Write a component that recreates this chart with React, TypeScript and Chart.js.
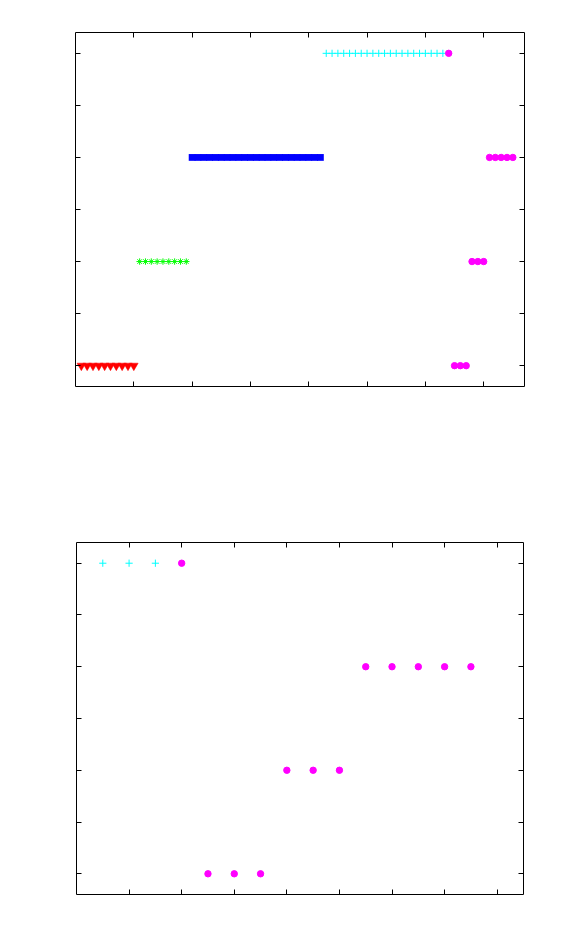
import React, { useEffect, useRef } from "react";
import { Chart, registerables } from "chart.js";

Chart.register(...registerables);

// ---------- data ----------
const yTicks = [0, 1, 2, 3, 4, 5, 6];
const yRange = [-0.4, 6.4];

// top panel
const topXRange = [0, 7.7];
const topXTicks = [1, 2, 3, 4, 5, 6, 7];
const topRedX = [0.1, 0.2, 0.3, 0.4, 0.5, 0.6, 0.7, 0.8, 0.9, 1.0];
const topRedY = 0;
const topGreenX = [1.1, 1.2, 1.3, 1.4, 1.5, 1.6, 1.7, 1.8, 1.9];
const topGreenY = 2;
const topBlueX = [2.0, 2.1, 2.2, 2.3, 2.4, 2.5, 2.6, 2.7, 2.8, 2.9, 3.0, 3.1, 3.2, 3.3, 3.4, 3.5, 3.6, 3.7, 3.8, 3.9, 4.0, 4.1, 4.2];
const topBlueY = 4;
const topCyanX = [4.3, 4.4, 4.5, 4.6, 4.7, 4.8, 4.9, 5.0, 5.1, 5.2, 5.3, 5.4, 5.5, 5.6, 5.7, 5.8, 5.9, 6.0, 6.1, 6.2, 6.3];
const topCyanY = 6;
const topMagentaX = [6.4, 6.5, 6.6, 6.7, 6.8, 6.9, 7.0, 7.1, 7.2, 7.3, 7.4, 7.5];
const topMagentaY = [6, 0, 0, 0, 2, 2, 2, 4, 4, 4, 4, 4];

// bottom panel
const bottomXRange = [0, 8.5];
const bottomXTicks = [1, 2, 3, 4, 5, 6, 7, 8];
const bottomCyanX = [0.5, 1.0, 1.5];
const bottomCyanY = 6;
const bottomMagentaX = [2.0, 2.5, 3.0, 3.5, 4.0, 4.5, 5.0, 5.5, 6.0, 6.5, 7.0, 7.5];
const bottomMagentaY = [6, 0, 0, 0, 2, 2, 2, 4, 4, 4, 4, 4];

const RED = "#ff0000";
const GREEN = "#00ff00";
const BLUE = "#0000ff";
const CYAN = "#00ffff";
const MAGENTA = "#ff00ff";

const framePlugin = (xTicks: number[], yT: number[]) => ({
  id: "frameTicks",
  afterDraw(chart: any) {
    const { ctx, chartArea } = chart;
    const { left, right, top, bottom } = chartArea;
    const xs = chart.scales.x;
    const ys = chart.scales.y;
    const len = 5;
    ctx.save();
    ctx.strokeStyle = "#000";
    ctx.lineWidth = 1;
    ctx.beginPath();
    ctx.rect(left, top, right - left, bottom - top);
    for (const v of xTicks) {
      const p = Math.round(xs.getPixelForValue(v) - 0.5) + 0.5;
      ctx.moveTo(p, bottom);
      ctx.lineTo(p, bottom - len);
      ctx.moveTo(p, top);
      ctx.lineTo(p, top + len);
    }
    for (const v of yT) {
      const p = Math.round(ys.getPixelForValue(v) - 0.5) + 0.5;
      ctx.moveTo(left, p);
      ctx.lineTo(left + len, p);
      ctx.moveTo(right, p);
      ctx.lineTo(right - len, p);
    }
    ctx.stroke();
    ctx.restore();
  },
});

const pts = (xs: number[], y: number | number[]) =>
  xs.map((x, i) => ({ x, y: Array.isArray(y) ? y[i] : y }));

function makeConfig(
  datasets: any[],
  xRange: number[],
  xTicks: number[],
  padding: any
): any {
  return {
    type: "scatter",
    data: { datasets },
    options: {
      animation: false,
      responsive: false,
      devicePixelRatio: 1,
      layout: { padding },
      plugins: { legend: { display: false }, tooltip: { enabled: false } },
      scales: {
        x: { type: "linear", min: xRange[0], max: xRange[1], display: false },
        y: { type: "linear", min: yRange[0], max: yRange[1], display: false },
      },
    },
    plugins: [framePlugin(xTicks, yTicks)],
  };
}

const magentaDs = (data: any[]) => ({
  data,
  pointStyle: "circle",
  pointRadius: 3.2,
  pointBorderWidth: 1,
  pointBackgroundColor: MAGENTA,
  pointBorderColor: MAGENTA,
  clip: false,
});
const cyanDs = (data: any[]) => ({
  data,
  pointStyle: "cross",
  pointRadius: 3.6,
  pointBorderWidth: 1,
  pointBackgroundColor: CYAN,
  pointBorderColor: CYAN,
  clip: false,
});

export default function App() {
  const topRef = useRef<HTMLCanvasElement>(null);
  const botRef = useRef<HTMLCanvasElement>(null);

  useEffect(() => {
    document.body.style.margin = "0";
    const topChart = new Chart(
      topRef.current as HTMLCanvasElement,
      makeConfig(
        [
          magentaDs(pts(topMagentaX, topMagentaY)),
          cyanDs(pts(topCyanX, topCyanY)),
          {
            data: pts(topBlueX, topBlueY),
            pointStyle: "rect",
            pointRadius: 4.8,
            pointBorderWidth: 0,
            pointBackgroundColor: BLUE,
            pointBorderColor: BLUE,
            clip: false,
          },
          {
            data: pts(topGreenX, topGreenY),
            pointStyle: "star",
            pointRadius: 3.2,
            pointBorderWidth: 1,
            pointBackgroundColor: GREEN,
            pointBorderColor: GREEN,
            clip: false,
          },
          {
            data: pts(topRedX, topRedY),
            pointStyle: "triangle",
            pointRotation: 180,
            pointRadius: 5,
            pointBorderWidth: 0.5,
            pointBackgroundColor: RED,
            pointBorderColor: RED,
            clip: false,
          },
        ],
        topXRange,
        topXTicks,
        { left: 75.5, right: 54.5, top: 32.5, bottom: 83.5 }
      )
    );
    const botChart = new Chart(
      botRef.current as HTMLCanvasElement,
      makeConfig(
        [magentaDs(pts(bottomMagentaX, bottomMagentaY)), cyanDs(pts(bottomCyanX, bottomCyanY))],
        bottomXRange,
        bottomXTicks,
        { left: 76.5, right: 55.5, top: 72.5, bottom: 46.5 }
      )
    );
    return () => {
      topChart.destroy();
      botChart.destroy();
    };
  }, []);

  return (
    <div style={{ position: "relative", width: 579, height: 941, background: "#fff" }}>
      <canvas
        ref={topRef}
        width={579}
        height={470}
        style={{ position: "absolute", left: 0, top: 0, width: 579, height: 470, display: "block" }}
      />
      <canvas
        ref={botRef}
        width={579}
        height={471}
        style={{ position: "absolute", left: 0, top: 470, width: 579, height: 471, display: "block" }}
      />
    </div>
  );
}
